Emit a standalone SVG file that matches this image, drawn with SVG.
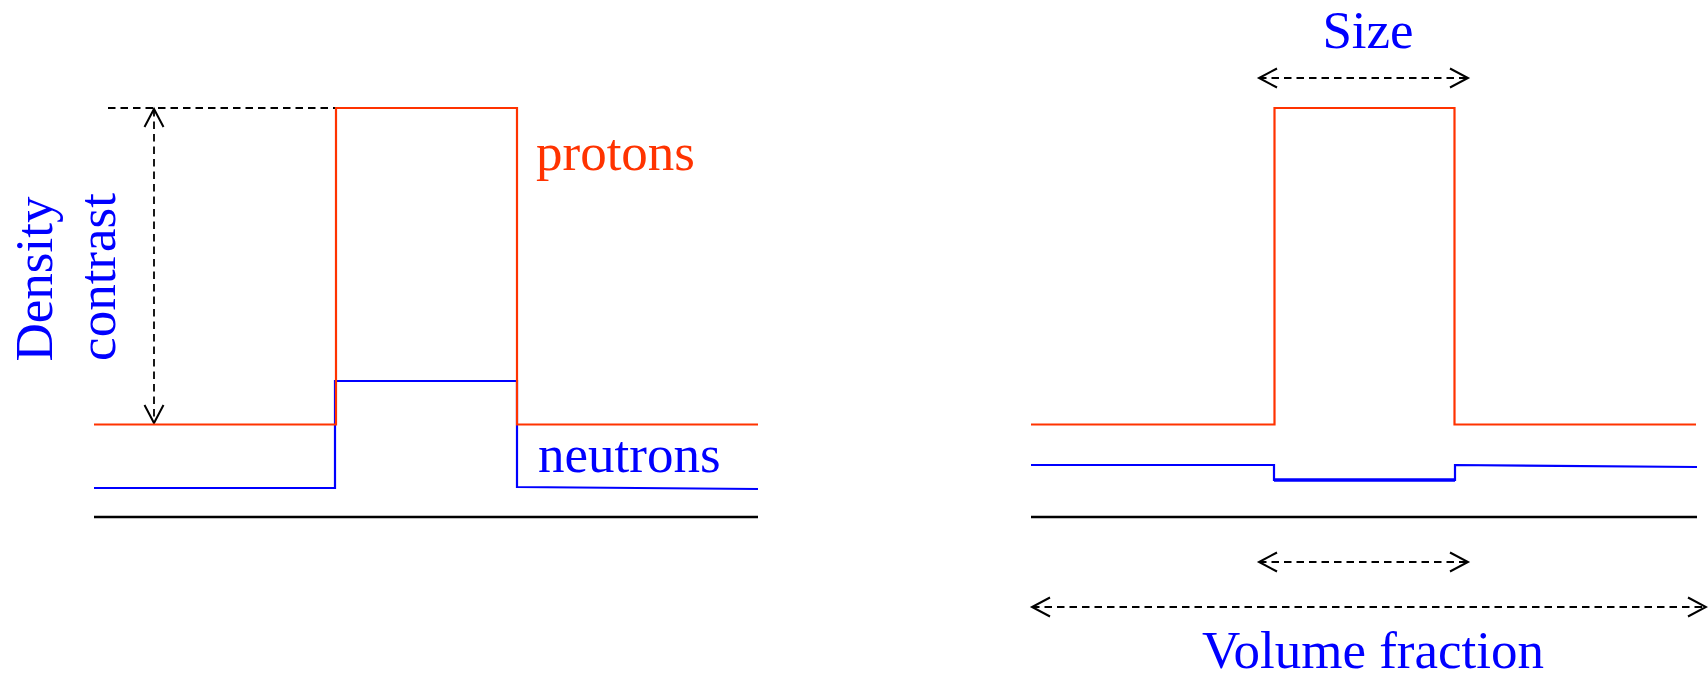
<svg xmlns="http://www.w3.org/2000/svg" width="1708" height="673" viewBox="0 0 1708 673">
<style>
.red{fill:none;stroke:#ff3300;stroke-width:2.2}
.blue{fill:none;stroke:#0000ff;stroke-width:2.2}
.base{fill:none;stroke:#000;stroke-width:2.5}
.dash{fill:none;stroke:#000;stroke-width:1.8;stroke-dasharray:7.5 5}
.lbl{font-family:"Liberation Serif","Times New Roman",serif;font-size:53px}
.lb{fill:#0000ff}
.lr{fill:#ff3300}
</style>
<defs>
<marker id="chev" markerUnits="userSpaceOnUse" markerWidth="24" markerHeight="24" viewBox="-20 -12 24 24" refX="0" refY="0" orient="auto-start-reverse" overflow="visible">
<path d="M-18,-9.5 L0,0 L-18,9.5" fill="none" stroke="#000" stroke-width="2" stroke-dasharray="none"/>
</marker>
</defs>
<rect width="1708" height="673" fill="#fff"/>
<g id="connectors">
<line class="dash" x1="108" y1="108" x2="336" y2="108"/>
<line class="dash" x1="154" y1="109" x2="154" y2="423" marker-start="url(#chev)" marker-end="url(#chev)"/>
<line class="dash" x1="1259" y1="78" x2="1468" y2="78" marker-start="url(#chev)" marker-end="url(#chev)"/>
<line class="dash" x1="1259" y1="562" x2="1468" y2="562" marker-start="url(#chev)" marker-end="url(#chev)"/>
<line class="dash" x1="1032" y1="607" x2="1706" y2="607" marker-start="url(#chev)" marker-end="url(#chev)"/>
</g>
<g id="left-panel">
<line class="base" x1="94" y1="517" x2="758" y2="517"/>
<path class="blue" d="M94,488 L335,488 L335,381 L517,381 L517,487 L758,489"/>
<path class="red" d="M94,424.5 L336,424.5 L336,108 L517,108 L517,424.5 L758,424.5"/>
</g>
<g id="right-panel">
<line class="base" x1="1031" y1="517" x2="1697" y2="517"/>
<path class="blue" d="M1031,465 L1274,465 L1274,480 L1455,480 L1455,465 L1697,467"/>
<line x1="1274" y1="480" x2="1455" y2="480" stroke="#0000ff" stroke-width="3.5"/>
<path class="red" d="M1031,424.5 L1274.5,424.5 L1274.5,108 L1454.5,108 L1454.5,424.5 L1696,424.5"/>
</g>
<g id="labels">
<g id="density"><text class="lbl lb" transform="translate(52,279) rotate(-90)" text-anchor="middle">Density</text></g>
<g id="contrast"><text class="lbl lb" transform="translate(115,277) rotate(-90)" text-anchor="middle">contrast</text></g>
<g id="protons"><text class="lbl lr" x="536" y="170">protons</text></g>
<g id="neutrons"><text class="lbl lb" x="538" y="472">neutrons</text></g>
<g id="size"><text class="lbl lb" x="1368" y="48" text-anchor="middle">Size</text></g>
<g id="volume"><text class="lbl lb" x="1373" y="668" text-anchor="middle">Volume fraction</text></g>
</g>
</svg>
